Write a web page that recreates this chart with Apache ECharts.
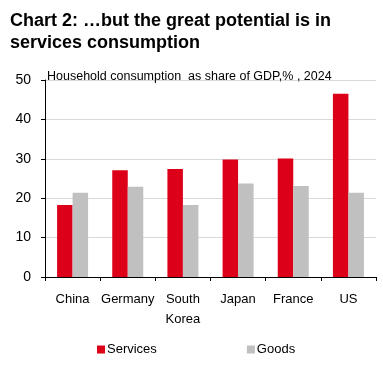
<!DOCTYPE html>
<html><head><meta charset="utf-8">
<script src="https://cdn.jsdelivr.net/npm/echarts@6/dist/echarts.min.js"></script>
<style>html,body{margin:0;padding:0;background:#fff}#c{width:383px;height:367px}</style>
</head><body><div id="c"></div>
<script>
const categories = ['China', 'Germany', 'South\nKorea', 'Japan', 'France', 'US'];
const services = [18.3, 27.1, 27.4, 29.8, 30.1, 46.5];
const goods = [21.4, 22.9, 18.3, 23.7, 23.1, 21.4];
const yTicks = [0, 10, 20, 30, 40, 50];

const chart = echarts.init(document.getElementById('c'), null, {renderer: 'canvas'});
const font = 'Liberation Sans, Arial, sans-serif';
chart.setOption({
  animation: false,
  title: [
    {text: 'Chart 2: …but the great potential is in\nservices consumption', left: 5, top: 5,
     textStyle: {fontFamily: font, fontSize: 18, fontWeight: 'bold', color: '#000', lineHeight: 22}},
    {text: 'Household consumption  as share of GDP,% , 2024', left: 42, top: 65,
     textStyle: {fontFamily: font, fontSize: 12.5, fontWeight: 'normal', color: '#000'}}
  ],
  legend: {
    bottom: 6, left: 92, itemGap: 90, itemWidth: 8, itemHeight: 8,
    icon: 'rect',
    textStyle: {fontFamily: font, fontSize: 13, color: '#000', padding: [0, 0, 0, -3]},
    data: ['Services', 'Goods']
  },
  grid: {left: 45, right: 7, top: 80, bottom: 90},
  xAxis: {
    type: 'category', data: categories,
    axisLine: {lineStyle: {color: '#000'}},
    axisTick: {show: true, length: 4, lineStyle: {color: '#000'}},
    axisLabel: {fontFamily: font, fontSize: 13, color: '#000', margin: 12, lineHeight: 20, interval: 0}
  },
  yAxis: {
    type: 'value', min: yTicks[0], max: yTicks[yTicks.length - 1], interval: 10,
    axisLine: {show: true, lineStyle: {color: '#000'}},
    axisTick: {show: true, length: 4, lineStyle: {color: '#000'}},
    axisLabel: {fontFamily: font, fontSize: 14, color: '#000', margin: 14},
    splitLine: {lineStyle: {color: '#d9d9d9'}}
  },
  series: [
    {name: 'Services', type: 'bar', data: services, barWidth: 15.5, barGap: '0%', itemStyle: {color: '#DC0019'}},
    {name: 'Goods', type: 'bar', data: goods, barWidth: 15.5, barGap: '0%', itemStyle: {color: '#C0C0C0'}}
  ]
});
</script></body></html>
